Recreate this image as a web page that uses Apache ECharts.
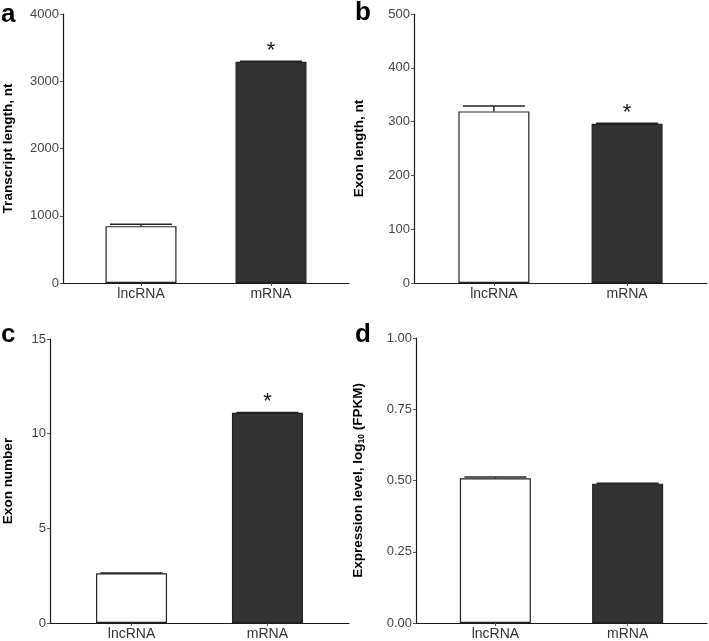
<!DOCTYPE html>
<html><head><meta charset="utf-8">
<script src="https://cdn.jsdelivr.net/npm/echarts@6/dist/echarts.min.js"></script>
<style>html,body{margin:0;padding:0;background:#fff}#c{width:709px;height:641px}</style>
</head><body><div id="c"></div>
<script>
var categories = ['lncRNA', 'mRNA'];
// panel a: transcript length (nt)
var transcriptMean = [845, 3290];
var transcriptErr = [30, 8];
// panel b: exon length (nt)
var exonLenMean = [319, 296];
var exonLenErr = [10, 1];
// panel c: exon number
var exonNumMean = [2.63, 11.1];
var exonNumErr = [0.01, 0.02];
// panel d: expression level log10(FPKM)
var exprMean = [0.508, 0.489];
var exprErr = [0.004, 0.001];
var sigA = [false, true], sigB = [false, true], sigC = [false, true], sigD = [false, false];
var yTicksA = [0, 1000, 2000, 3000, 4000];
var yTicksB = [0, 100, 200, 300, 400, 500];
var yTicksC = [0, 5, 10, 15];
var yTicksD = [0, 0.25, 0.5, 0.75, 1.0];

var chart = echarts.init(document.getElementById('c'), null, {renderer: 'canvas'});
var FONT = '"Liberation Sans", Arial, Helvetica, sans-serif';
var fills = ['#ffffff', '#333333'];
var grids = [
  {left: 62, top: 14, right: 360, bottom: 358},
  {left: 414, top: 14, right: 2, bottom: 358},
  {left: 46, top: 339, right: 360, bottom: 17},
  {left: 416, top: 338, right: 2, bottom: 17}
];
var panels = [
  {mean: transcriptMean, err: transcriptErr, sig: sigA, ticks: yTicksA, name: 'Transcript length, nt', gap: 48, fmt: function(v){return String(v);}},
  {mean: exonLenMean, err: exonLenErr, sig: sigB, ticks: yTicksB, name: 'Exon length, nt', gap: 48, fmt: function(v){return String(v);}},
  {mean: exonNumMean, err: exonNumErr, sig: sigC, ticks: yTicksC, name: 'Exon number', gap: 35, fmt: function(v){return String(v);}},
  {mean: exprMean, err: exprErr, sig: sigD, ticks: yTicksD, name: 'Expression level, log{sub|10} (FPKM)', gap: 50, fmt: function(v){return v.toFixed(2);}}
];
var xAxes = [], yAxes = [], series = [];
panels.forEach(function(p, i) {
  var step = p.ticks[1] - p.ticks[0];
  xAxes.push({
    type: 'value', gridIndex: i, min: 0.4, max: 2.6,
    axisLine: {show: true, lineStyle: {color: '#1a1a1a', width: 1.2}},
    axisTick: {show: true, length: 3, lineStyle: {color: '#555'}, customValues: [1, 2]},
    axisLabel: {show: true, customValues: [1, 2], formatter: function(v){ return categories[Math.round(v) - 1]; },
      color: '#333', fontSize: 14, fontFamily: FONT, margin: 4},
    splitLine: {show: false}
  });
  yAxes.push({
    type: 'value', gridIndex: i, min: p.ticks[0], max: p.ticks[p.ticks.length - 1], interval: step,
    name: p.name, nameLocation: 'middle', nameGap: p.gap,
    nameTextStyle: {fontFamily: FONT, fontWeight: 'bold', fontSize: 13.5, color: '#000',
      rich: {sub: {fontSize: 8.5, fontWeight: 'bold', fontFamily: FONT, color: '#000', verticalAlign: 'bottom', padding: [6, 0, 0, 0]}}},
    axisLine: {show: true, lineStyle: {color: '#1a1a1a', width: 1.2}},
    axisTick: {show: true, length: 3, lineStyle: {color: '#555'}},
    axisLabel: {color: '#444', fontSize: 13, fontFamily: FONT, margin: 4, formatter: p.fmt},
    splitLine: {show: false}
  });
  series.push({
    type: 'bar', xAxisIndex: i, yAxisIndex: i, barWidth: 71,
    data: p.mean.map(function(v, k) {
      return {value: [k + 1, v], itemStyle: {color: fills[k], borderColor: '#222', borderWidth: 1.2},
        label: {show: p.sig[k], position: 'top', distance: 0, formatter: '*', fontSize: 22, color: '#111', fontFamily: FONT}};
    }),
    silent: true
  });
  series.push({
    type: 'custom', xAxisIndex: i, yAxisIndex: i, silent: true, z: 3,
    data: p.mean.map(function(v, k) { return [k + 1, v, v + p.err[k]]; }),
    renderItem: function(params, api) {
      var base = api.coord([api.value(0), api.value(1)]);
      var top = api.coord([api.value(0), api.value(2)]);
      var hw = 31;
      var st = {stroke: '#222', lineWidth: 1.5};
      return {type: 'group', children: [
        {type: 'line', shape: {x1: base[0], y1: base[1], x2: top[0], y2: top[1]}, style: st},
        {type: 'line', shape: {x1: top[0] - hw, y1: top[1], x2: top[0] + hw, y2: top[1]}, style: st}
      ]};
    }
  });
});
var letters = [['a', 1, 2], ['b', 355, 0], ['c', 1, 322], ['d', 355, 322]];
chart.setOption({
  animation: false,
  backgroundColor: '#fff',
  grid: grids,
  xAxis: xAxes,
  yAxis: yAxes,
  series: series,
  graphic: letters.map(function(l) {
    return {type: 'text', left: l[1], top: l[2], style: {text: l[0], font: 'bold 26px ' + FONT, fill: '#000'}};
  })
});
</script></body></html>
